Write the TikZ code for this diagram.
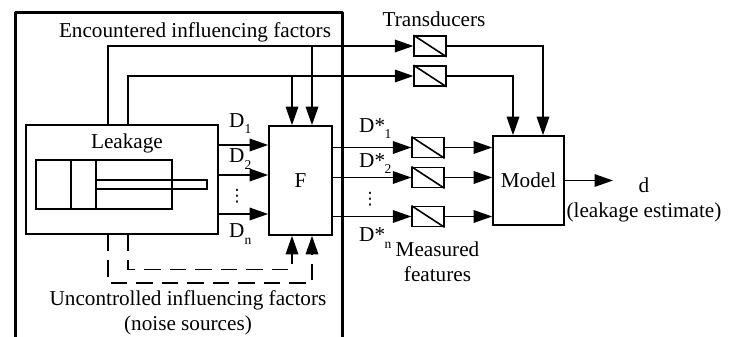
\documentclass[tikz,border=0pt]{standalone}
\usepackage{fontspec}
\setmainfont{Liberation Serif}
\newfontfamily\dotfont{DejaVu Sans}
\usetikzlibrary{arrows.meta}
\tikzset{
  wire/.style={line width=1.6pt},
  arr/.style={wire,-{Triangle[length=18.5pt,width=12.5pt]}},
  dash wire/.style={arr,dash pattern=on 16.5pt off 9pt},
  blockbox/.style={draw,line width=1.6pt,rectangle,inner sep=0pt,minimum width=#1},
  td/.style={draw,line width=1.7pt,rectangle,inner sep=0pt,minimum width=31.5pt,minimum height=20pt},
  lbl/.style={inner sep=0pt,font=\fontsize{21.2}{24}\selectfont},
  sub/.style={inner sep=0pt,font=\fontsize{13.5}{15}\selectfont},
  dotsl/.style={inner sep=0pt,font=\dotfont\fontsize{17}{18}\selectfont}
}
\begin{document}
\begin{tikzpicture}[x=1pt,y=-1pt]
\useasboundingbox (0,0) rectangle (736,337);
% frame
\draw[line width=3pt,line join=round] (15,337) -- (15,12.5) -- (342,12.5) -- (342,337);
% blocks
\node[blockbox=192pt,minimum height=109pt] (leak) at (122,179.5) {};
\node[blockbox=63pt,minimum height=109pt] (F) at (300.5,180.5) {};
\node[blockbox=71pt,minimum height=89pt] (M) at (528.5,180.5) {};
\node[lbl,anchor=base] at (127,148) {Leakage};
\node[lbl,anchor=base] (Ft) at (300.5,187.5) {F};
\node[lbl,anchor=base] (Mt) at (528.5,187) {Model};
% cylinder
\draw[wire] (36,160) rectangle (172,209);
\draw[wire] (71,160) -- (71,209) (96,160) -- (96,209);
\draw[wire] (96,180) rectangle (207,189);
% transducers
\node[td] (t1) at (430,46) {};
\node[td] (t2) at (430,76) {};
\node[td] (t3) at (428,147.5) {};
\node[td] (t4) at (428,177.5) {};
\node[td] (t5) at (428,216.5) {};
\foreach \n in {t1,t2,t3,t4,t5}{\draw[wire] (\n.north west) -- (\n.south east);}
% named helpers
\coordinate (a) at (108,46);
\coordinate (b) at (128,76);
\coordinate (fa) at (312,0);
\coordinate (fb) at (292,0);
\coordinate (ma) at (543,0);
\coordinate (mb) at (513,0);
\coordinate (y1) at (0,145);
\coordinate (y2) at (0,175);
\coordinate (yn) at (0,214);
\coordinate (z1) at (0,147.5);
\coordinate (z2) at (0,177.5);
\coordinate (zn) at (0,216.5);
\coordinate (da) at (108,283);
\coordinate (db) at (128,269.5);
% upper connectors
\draw[arr] (a |- leak.north) -- (a) -- (t1);
\draw[arr] (a -| fa) -- (F.north -| fa);
\draw[arr] (b |- leak.north) -- (b) -- (t2);
\draw[arr] (b -| fb) -- (F.north -| fb);
\draw[arr] (t1.east) -| (M.north -| ma);
\draw[arr] (t2.east) -| (M.north -| mb);
% leak to F
\draw[arr] (leak.east |- y1) -- (F.west |- y1);
\draw[arr] (leak.east |- y2) -- (F.west |- y2);
\draw[arr] (leak.east |- yn) -- (F.west |- yn);
% F to transducers, to model
\draw[arr] (F.east |- z1) -- (t3.west);
\draw[arr] (F.east |- z2) -- (t4.west);
\draw[arr] (F.east |- zn) -- (t5.west);
\draw[arr] (t3.east) -- (M.west |- z1);
\draw[arr] (t4.east) -- (M.west |- z2);
\draw[arr] (t5.east) -- (M.west |- zn);
\coordinate (out) at (613,180.5);
\draw[arr] (M.east |- out) -- (out);
% dashed
\draw[dash wire] (da |- leak.south) -- (da) -| (F.south -| fa);
\draw[dash wire] (db |- leak.south) -- (db) -| (F.south -| fb);
% text
\node[lbl,anchor=base] at (195,38) {Encountered influencing factors};
\node[lbl,anchor=base] at (188,305) {Uncontrolled influencing factors};
\node[lbl,anchor=base] at (188,330) {(noise sources)};
\node[lbl,anchor=base] at (434,27) {Transducers};
\node[lbl,anchor=base] at (437.5,256) {Measured};
\node[lbl,anchor=base] at (437.5,281) {features};
\node[lbl,anchor=base] at (644,192) {d};
\node[lbl,anchor=base] at (644,217) {(leakage estimate)};
% D labels
\node[lbl,anchor=base west] at (229,127) {D};
\node[sub,anchor=base] at (248,133) {1};
\node[lbl,anchor=base west] at (229,162) {D};
\node[sub,anchor=base] at (248,169) {2};
\node[lbl,anchor=base west] at (229,237) {D};
\node[sub,anchor=base] at (248,244) {n};
\node[dotsl,anchor=base] at (237,201) {⋮};
\node[lbl,anchor=base west] at (359,132) {D*};
\node[sub,anchor=base] at (388,138) {1};
\node[lbl,anchor=base west] at (359,167) {D*};
\node[sub,anchor=base] at (388,173) {2};
\node[lbl,anchor=base west] at (359,241) {D*};
\node[sub,anchor=base] at (388,248) {n};
\node[dotsl,anchor=base] at (370,204) {⋮};
\end{tikzpicture}
\end{document}
